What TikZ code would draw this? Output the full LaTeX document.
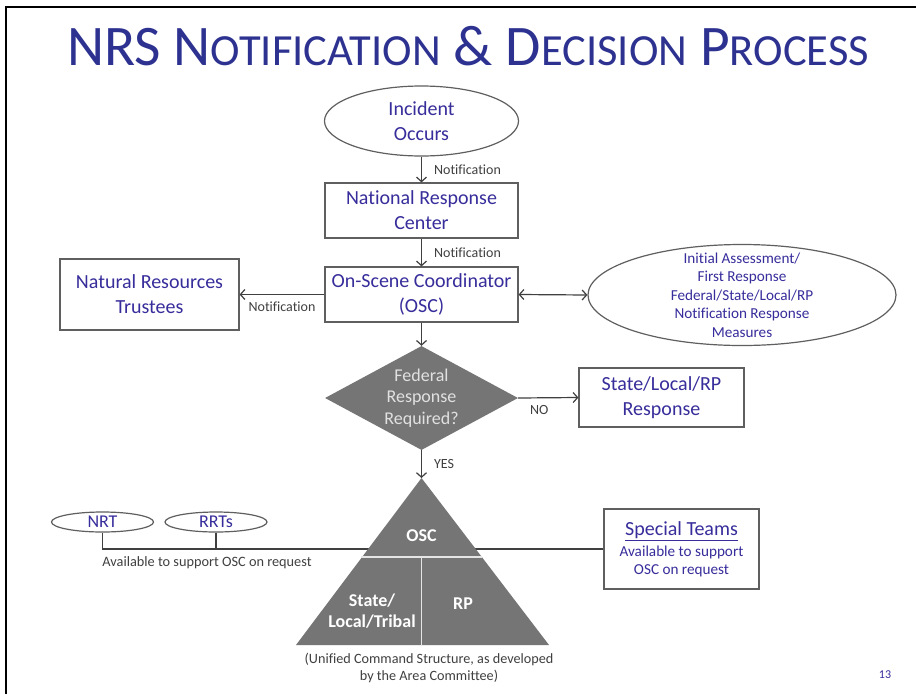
\documentclass[tikz,border=0pt]{standalone}
\usepackage{fontspec}
\setmainfont{Carlito}[Ligatures=NoCommon]
\usetikzlibrary{shapes.geometric,arrows.meta}
\definecolor{tblue}{RGB}{45,50,145}
\definecolor{nblue}{RGB}{55,45,155}
\definecolor{cgray}{RGB}{64,64,64}
\definecolor{bgray}{RGB}{95,95,95}
\definecolor{fgray}{RGB}{117,117,117}
\definecolor{dtext}{RGB}{225,225,225}
\newcommand\mysmc[1]{{\fontsize{44.5}{44.5}\selectfont #1}}
\begin{document}
\begin{tikzpicture}[x=1pt,y=-1pt,
  box/.style={draw=bgray, line width=1.2pt, rectangle, inner sep=0pt, text=nblue, font=\fontsize{20}{25}\selectfont, align=center},
  ell/.style={draw=bgray, line width=1.2pt, ellipse, inner sep=0pt, text=nblue, align=center},
  conn/.style={draw=cgray, line width=1.2pt, -{Straight Barb[length=4.5pt,width=10pt]}},
  plain/.style={draw=cgray, line width=1.2pt},
  lbl/.style={text=cgray, font=\fontsize{14}{16}\selectfont, inner sep=0pt},
  tritext/.style={text=white, font=\bfseries\fontsize{18}{21.5}\selectfont, align=center, inner sep=0pt}]
\useasboundingbox (0,0) rectangle (916,694);
\fill[white] (0,0) rectangle (916,694);
\draw[black, line width=2.5pt] (6,694) -- (6,7) -- (916,7);

\node[anchor=base, text=tblue, font=\fontsize{57.4}{57.4}\selectfont, inner sep=0pt] (title) at (468,65) {NRS N\mysmc{OTIFICATION} \& D\mysmc{ECISION} P\mysmc{ROCESS}};

\node[ell, minimum width=194pt, minimum height=70pt, font=\fontsize{20}{25}\selectfont] (inc) at (421.5,121) {Incident\\Occurs};
\node[box, minimum width=193pt, minimum height=55pt] (nrc) at (421.5,210.5) {National Response\\Center};
\node[box, minimum width=193pt, minimum height=55pt] (osc) at (421.5,294.5) {On-Scene Coordinator\\(OSC)};
\node[box, minimum width=179pt, minimum height=71pt] (nrt) at (149.5,294.5) {Natural Resources\\Trustees};
\node[ell, minimum width=308pt, minimum height=101pt] (ia) at (742,295) {};
\node[text=nblue, font=\fontsize{15.2}{18.5}\selectfont, align=center, inner sep=0pt] (iatext) at (742,295) {Initial Assessment/\\First Response\\Federal/State/Local/RP\\Notification Response\\Measures};
\node[shape=diamond, fill=fgray, inner sep=0pt, aspect=1.86, minimum width=193pt, minimum height=104pt, text=dtext, font=\fontsize{18}{21.5}\selectfont, align=center] (dia) at (421.5,398) {Federal\\Response\\Required?};
\node[box, minimum width=165pt, minimum height=59pt] (slr) at (661.5,397.5) {State/Local/RP\\Response};
\coordinate (apex) at (421.5,478);
\coordinate (bl) at (296,645);
\coordinate (br) at (549,645);

\node[ell, minimum width=102pt, minimum height=20pt, font=\fontsize{18}{20}\selectfont] (nrte) at (102.5,522) {NRT};
\node[ell, minimum width=102pt, minimum height=20pt, font=\fontsize{18}{20}\selectfont] (rrte) at (216,522) {RRTs};
\node[box, minimum width=155pt, minimum height=80pt, font=\fontsize{15.2}{18}\selectfont] (st) at (681.5,549) {{\fontsize{20}{21}\selectfont\underline{Special Teams}}\\[3pt]Available to support\\OSC on request};

% connectors
\draw[conn] (inc.south) -- (nrc.north) node[lbl, midway, anchor=west, xshift=12pt] (n1) {Notification};
\draw[conn] (nrc.south) -- (osc.north) node[lbl, midway, anchor=west, xshift=12pt] (n2) {Notification};
\draw[conn] (osc.west) -- (nrt.east) node[lbl, midway, anchor=north, yshift=-7pt] (n3) {Notification};
\draw[conn, {Straight Barb[length=4.5pt,width=10pt]}-{Straight Barb[length=4.5pt,width=10pt]}] (osc.east) -- (ia.west);
\draw[conn] (osc.south) -- (dia.north);
\draw[conn] (dia.east) -- (slr.west) node[lbl, pos=0.35, anchor=north, yshift=-7pt] (no) {NO};
\draw[conn] (dia.south) -- (apex) node[lbl, midway, anchor=west, xshift=12pt] (yes) {YES};

\draw[plain] (nrte.south) |- (st.west);
\draw[plain] (rrte.south) -- (rrte.south |- st.west);

% triangle
\fill[fgray] (apex) -- (bl) -- (br) -- cycle;
\draw[white!80!gray, line width=1.5pt] (361,557) -- (482,557) (421.5,557) -- (421.5,645);
\node[tritext] (tosc) at (421.5,536) {OSC};
\node[tritext] (tsl) at (372,611) {State/\\Local/Tribal};
\node[tritext] (trp) at (463,604) {RP};

\node[lbl, font=\fontsize{14.3}{15}\selectfont] (avail) at (207,563) {Available to support OSC on request};
\node[lbl, font=\fontsize{14.2}{17}\selectfont, align=center] (cap) at (429,667.5) {(Unified Command Structure, as developed\\by the Area Committee)};
\node[text=nblue, font=\fontsize{12}{14}\selectfont, inner sep=0pt] (pg) at (885,675) {13};
\end{tikzpicture}
\end{document}
